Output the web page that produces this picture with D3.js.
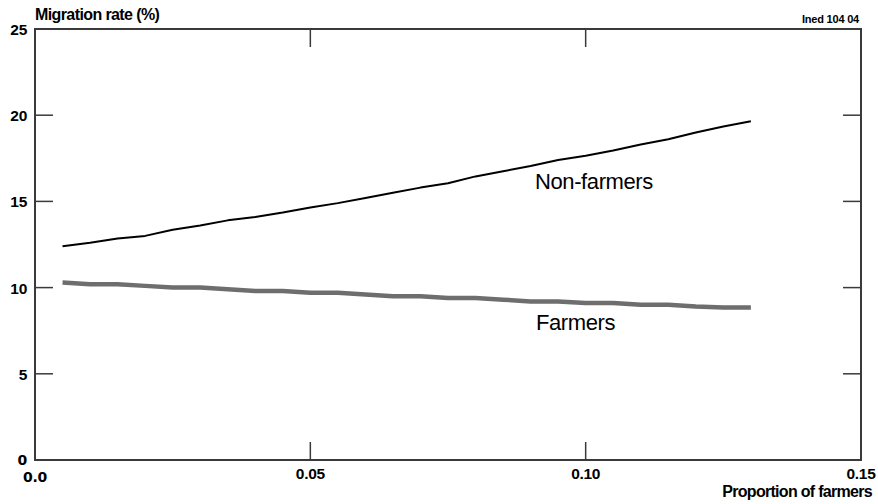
<!DOCTYPE html>
<html>
<head>
<meta charset="utf-8">
<script src="https://cdn.jsdelivr.net/npm/d3@7"></script>
<style>
  html, body { margin: 0; padding: 0; background: #fff; }
  svg text { font-family: "Liberation Sans", Arial, sans-serif; }
</style>
</head>
<body>
<svg id="chart" width="878" height="504"></svg>
<script>
// Proportion of farmers in the commune (x values)
const proportion = [0.005, 0.010, 0.015, 0.020, 0.025, 0.030, 0.035, 0.040, 0.045, 0.050,
                    0.055, 0.060, 0.065, 0.070, 0.075, 0.080, 0.085, 0.090, 0.095, 0.100,
                    0.105, 0.110, 0.115, 0.120, 0.125, 0.130];
// Migration rate (%) of non-farmers
const nonFarmers = [12.4, 12.6, 12.85, 13.0, 13.35, 13.6, 13.9, 14.1, 14.35, 14.65,
                    14.9, 15.2, 15.5, 15.8, 16.05, 16.45, 16.75, 17.05, 17.4, 17.65,
                    17.95, 18.3, 18.6, 19.0, 19.35, 19.65];
// Migration rate (%) of farmers
const farmers = [10.3, 10.2, 10.2, 10.1, 10.0, 10.0, 9.9, 9.8, 9.8, 9.7,
                 9.7, 9.6, 9.5, 9.5, 9.4, 9.4, 9.3, 9.2, 9.2, 9.1,
                 9.1, 9.0, 9.0, 8.9, 8.85, 8.85];

const xTicks = [0, 0.05, 0.10, 0.15];
const xTickLabels = ["0.0", "0.05", "0.10", "0.15"];
const yTicks = [0, 5, 10, 15, 20, 25];

(function () {
  const svg = d3.select("#chart");
  const pLeft = 35, pRight = 861, pTop = 29, pBottom = 460;

  const x = d3.scaleLinear().domain([0, 0.15]).range([pLeft, pRight]);
  const y = d3.scaleLinear().domain([0, 25]).range([pBottom, pTop]);

  const axisColor = "#3a3a3a";
  const tickLen = 18;

  // Frame
  svg.append("rect")
    .attr("x", pLeft).attr("y", pTop)
    .attr("width", pRight - pLeft).attr("height", pBottom - pTop)
    .attr("fill", "none").attr("stroke", axisColor).attr("stroke-width", 2);

  // Inward ticks on all four sides (interior ticks only)
  const yInner = yTicks.filter(v => v > 0 && v < 25);
  const xInner = xTicks.filter(v => v > 0 && v < 0.15);

  svg.append("g").selectAll("line").data(yInner).join("line")
    .attr("x1", pLeft).attr("x2", pLeft + tickLen)
    .attr("y1", d => y(d)).attr("y2", d => y(d))
    .attr("stroke", axisColor).attr("stroke-width", 1.5);
  svg.append("g").selectAll("line").data(yInner).join("line")
    .attr("x1", pRight - tickLen).attr("x2", pRight)
    .attr("y1", d => y(d)).attr("y2", d => y(d))
    .attr("stroke", axisColor).attr("stroke-width", 1.5);
  svg.append("g").selectAll("line").data(xInner).join("line")
    .attr("x1", d => x(d)).attr("x2", d => x(d))
    .attr("y1", pBottom - tickLen).attr("y2", pBottom)
    .attr("stroke", axisColor).attr("stroke-width", 1.5);
  svg.append("g").selectAll("line").data(xInner).join("line")
    .attr("x1", d => x(d)).attr("x2", d => x(d))
    .attr("y1", pTop).attr("y2", pTop + tickLen)
    .attr("stroke", axisColor).attr("stroke-width", 1.5);

  // Tick labels
  svg.append("g").selectAll("text").data(yTicks).join("text")
    .attr("x", 27).attr("y", d => d === 0 ? y(d) + 5 : y(d) + 6)
    .attr("text-anchor", "end")
    .attr("font-size", d => d === 0 ? 14 : 15.5)
    .attr("font-weight", "bold").attr("letter-spacing", -0.3)
    .style("font-family", d => d === 0 ? "'DejaVu Sans', sans-serif" : null)
    .attr("fill", "#000")
    .text(d => d);

  svg.append("g").selectAll("text").data(xTicks).join("text")
    .attr("x", d => x(d)).attr("y", (d, i) => i === 0 ? 482 : 479)
    .attr("text-anchor", "middle")
    .attr("font-size", (d, i) => i === 0 ? 14 : 15.5)
    .attr("font-weight", "bold").attr("letter-spacing", -0.3)
    .style("font-family", (d, i) => i === 0 ? "'DejaVu Sans', sans-serif" : null)
    .attr("fill", "#000")
    .text((d, i) => xTickLabels[i]);

  // Axis titles and reference
  svg.append("text").attr("x", 35).attr("y", 20)
    .attr("font-size", 16).attr("font-weight", "bold").attr("letter-spacing", -0.6)
    .text("Migration rate (%)");
  svg.append("text").attr("x", 859).attr("y", 23).attr("text-anchor", "end")
    .attr("font-size", 11).attr("font-weight", "bold").attr("letter-spacing", -0.2)
    .text("Ined 104 04");
  svg.append("text").attr("x", 872).attr("y", 497).attr("text-anchor", "end")
    .attr("font-size", 16).attr("font-weight", "bold").attr("letter-spacing", -0.7)
    .text("Proportion of farmers");

  // Series lines
  const line = vals => d3.line()
    .x((d, i) => x(proportion[i]))
    .y(d => y(d))(vals);

  svg.append("path").attr("d", line(farmers))
    .attr("fill", "none").attr("stroke", "#6e6e6e").attr("stroke-width", 4.5)
    .attr("stroke-linejoin", "round");
  svg.append("path").attr("d", line(nonFarmers))
    .attr("fill", "none").attr("stroke", "#000").attr("stroke-width", 2)
    .attr("stroke-linejoin", "round");

  // Series labels
  svg.append("text").attr("x", 535).attr("y", 189)
    .attr("font-size", 22).attr("letter-spacing", -0.4).text("Non-farmers");
  svg.append("text").attr("x", 536).attr("y", 330)
    .attr("font-size", 22).attr("letter-spacing", -0.4).text("Farmers");
})();
</script>
</body>
</html>
